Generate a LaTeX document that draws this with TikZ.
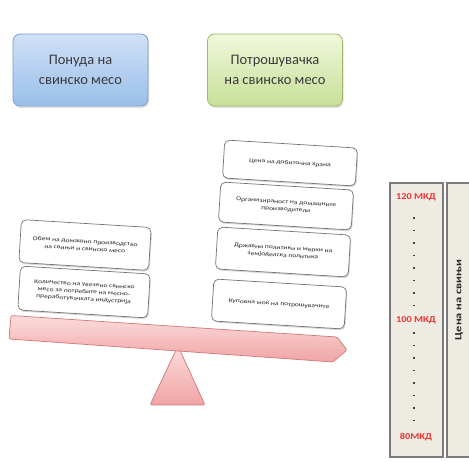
\documentclass[tikz,border=0pt]{standalone}
\usepackage{fontspec}
\setmainfont{Carlito}
\newfontfamily\boxfont[FakeStretch=1.3]{Carlito}
\newfontfamily\lblfont[FakeStretch=1.15]{Carlito}
\newfontfamily\axisfont[FakeStretch=1.3]{Carlito}
\usetikzlibrary{shadows}
\definecolor{blueA}{HTML}{D0E1F6}
\definecolor{blueB}{HTML}{9ABFEA}
\definecolor{blueE}{HTML}{7E9CC8}
\definecolor{greenA}{HTML}{F1F8DC}
\definecolor{greenB}{HTML}{C8DF98}
\definecolor{greenE}{HTML}{9CB86A}
\definecolor{pinkA}{HTML}{FCDCDC}
\definecolor{pinkB}{HTML}{F0A4A4}
\definecolor{pinkE}{HTML}{D07878}
\definecolor{panelfill}{HTML}{EEEBE3}
\definecolor{panelE}{HTML}{7A7A7A}
\definecolor{txt}{HTML}{3A3A3A}
\definecolor{pricered}{HTML}{F03030}
\begin{document}
\begin{tikzpicture}[x=1pt,y=-1pt,
  titlebox/.style={draw, line width=0.8pt, rounded corners=7pt, minimum width=135pt,
    minimum height=72pt, align=center, text=txt, font=\fontsize{14.5}{20}\selectfont,
    drop shadow={shadow xshift=1pt, shadow yshift=-2pt, opacity=0.25}},
  infobox/.style={draw=black!55, line width=0.7pt, fill=white, rounded corners=5pt,
    minimum width=133pt, minimum height=40pt, align=center, text=black!85,
    font=\boxfont\fontsize{5.8}{7.3}\selectfont, rotate=-3.5,
    drop shadow={shadow xshift=1pt, shadow yshift=-1.5pt, opacity=0.3}},
  plank/.style={draw=pinkE, line width=0.7pt, top color=pinkA, bottom color=pinkB,
    rounded corners=1.5pt},
  panel/.style={draw=panelE, line width=1.3pt, fill=panelfill},
  price/.style={text=pricered, font=\lblfont\bfseries\fontsize{9}{10}\selectfont, inner sep=0pt}]
\useasboundingbox (0,0) rectangle (469,462);
\clip (0,0) rectangle (469,462);

% title boxes
\node[titlebox, draw=blueE, top color=blueA, bottom color=blueB] (supply) at (80.5,70) {Понуда на\\свинско месо};
\node[titlebox, draw=greenE, top color=greenA, bottom color=greenB] (demand) at (275,70) {Потрошувачка\\на свинско месо};

% fulcrum
\draw[plank] (178,346) -- (205,405) -- (150,405) -- cycle;

% left stack
\node[infobox, minimum width=130pt, minimum height=43pt] (l1) at (85,245) {Обем на домашно производство\\на свињи и свинско месо};
\node[infobox, minimum width=130pt, minimum height=44pt] (l2) at (84,292) {Количество на увезено свинско\\месо за потребите на месно-\\преработувачката индустрија};

% right stack
\node[infobox, minimum height=38pt] (r1) at (290,163) {Цена на добиточна храна};
\node[infobox] (r2) at (286,206) {Организираност на домашните\\производители};
\node[infobox, minimum height=42pt] (r3) at (283,252) {Државни политики и мерки на\\земјоделска политика};
\node[infobox, minimum height=42pt] (r4) at (279,304) {Куповна моќ на потрошувачите};

% plank
\draw[plank] (11,315.5) -- (337,337) -- (347,350) -- (333,362) -- (9,339) -- cycle;

% price scale panels
\draw[panel] (390,183) rectangle (443,457);
\draw[panel] (447,183) rectangle (480,457);
\node[price] (p120) at (416,197) {120 МКД};
\node[price] (p100) at (416,320) {100 МКД};
\node[price] (p80) at (416,437) {80МКД};
\foreach \y in {218,230.5,243,255.5,268,280.5,293,305.5}
  \fill[black!75] (413.4,\y-0.9) rectangle (415.2,\y+0.9);
\foreach \y in {333,345.5,358,370.5,383,395.5,408,420.5}
  \fill[black!75] (413.4,\y-0.9) rectangle (415.2,\y+0.9);
\node[rotate=90, font=\axisfont\bfseries\fontsize{9.5}{10}\selectfont, text=black!85] (axis) at (459,300) {Цена на свињи};
\end{tikzpicture}
\end{document}
